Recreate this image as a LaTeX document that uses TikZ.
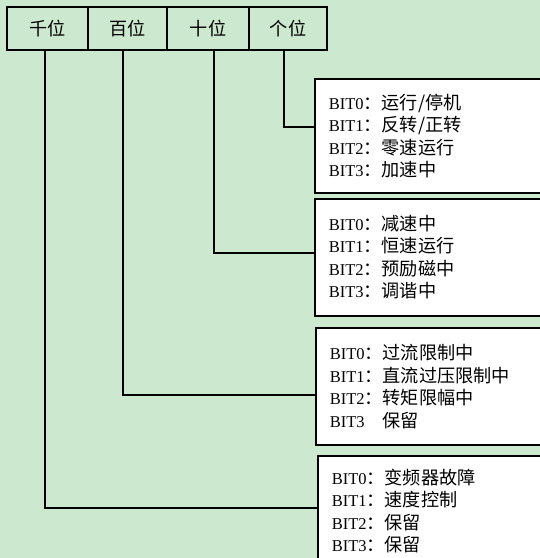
\documentclass[tikz,border=0pt]{standalone}
\usepackage{fontspec}
\setmainfont{Liberation Serif}
\newfontfamily\cjk[Scale=1.1]{Noto Sans CJK SC}
\usetikzlibrary{positioning}
\definecolor{bggreen}{HTML}{CCE8CF}
\newcommand{\bitrow}[2]{BIT#1{\cjk ：#2}}

\begin{document}
\begin{tikzpicture}[x=1pt, y=-1pt,
  cell/.style={draw, line width=1.6pt, minimum height=43pt, inner sep=0pt,
               font=\fontsize{16.5}{20}\selectfont\cjk},
  infobox/.style={draw, fill=white, line width=1.7pt, anchor=north west, align=left,
                  text width=218pt, inner xsep=14pt, minimum width=246pt,
                  font=\fontsize{16.5}{22.5}\selectfont},
  wire/.style={line width=1.8pt},
]
  \useasboundingbox (0,0) rectangle (540,558);
  \fill[bggreen] (0,0) rectangle (540,558);
  \clip (0,0) rectangle (540,558);

  % digit cells
  \node[cell, minimum width=81pt] (thou) at (47.5,28.5)  {千位};
  \node[cell, minimum width=79pt] (hund) at (127.5,28.5) {百位};
  \node[cell, minimum width=82pt] (ten)  at (208,28.5)   {十位};
  \node[cell, minimum width=78pt] (unit) at (288,28.5)   {个位};

  \node[infobox, minimum height=114pt] (b1) at (314,78)
    {\bitrow{0}{运行/停机}\\ \bitrow{1}{反转/正转}\\ \bitrow{2}{零速运行}\\ \bitrow{3}{加速中}};
  \node[infobox, minimum height=117pt] (b2) at (314,198)
    {\bitrow{0}{减速中}\\ \bitrow{1}{恒速运行}\\ \bitrow{2}{预励磁中}\\ \bitrow{3}{调谐中}};
  \node[infobox, minimum height=117pt] (b3) at (315,327)
    {\bitrow{0}{过流限制中}\\ \bitrow{1}{直流过压限制中}\\ \bitrow{2}{转矩限幅中}\\ BIT3{\cjk 　保留}};
  \node[infobox, minimum height=110pt] (b4) at (317,455)
    {\bitrow{0}{变频器故障}\\ \bitrow{1}{速度控制}\\ \bitrow{2}{保留}\\ \bitrow{3}{保留}};

  \draw[wire] ([xshift=-4pt]unit.south)   |- ([yshift=9pt]b1.west);
  \draw[wire] ([xshift=6pt]ten.south)     |- ([yshift=4.5pt]b2.west);
  \draw[wire] ([xshift=-4.5pt]hund.south) |- ([yshift=-8.5pt]b3.west);
  \draw[wire] ([xshift=-2.5pt]thou.south) |- ([yshift=3pt]b4.west);
\end{tikzpicture}
\end{document}
